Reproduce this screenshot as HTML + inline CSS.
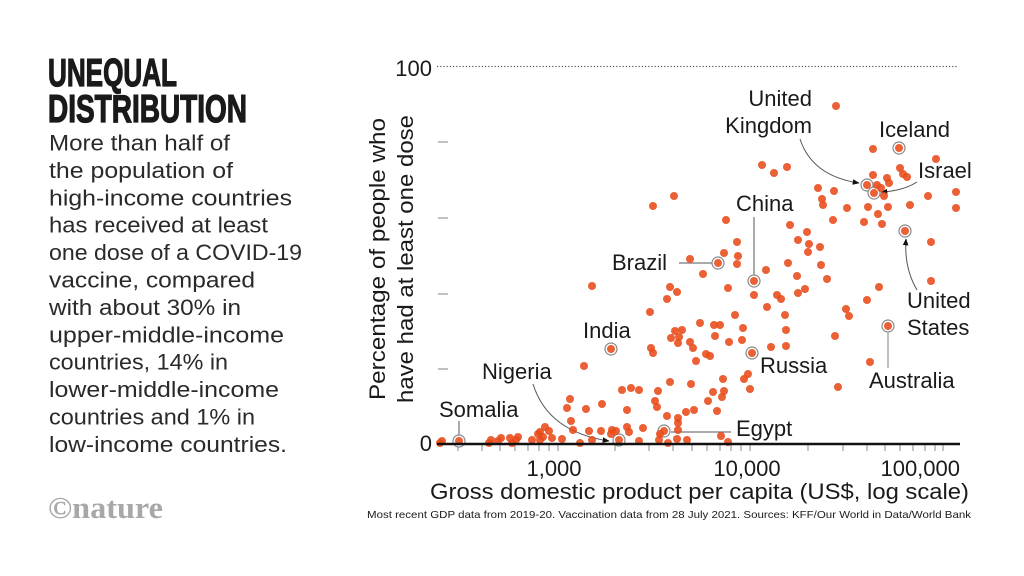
<!DOCTYPE html>
<html>
<head>
<meta charset="utf-8">
<style>
  html,body{margin:0;padding:0;background:#fff;}
  body{width:1024px;height:576px;overflow:hidden;}
  svg{display:block;}
  .lab{font-family:"Liberation Sans",sans-serif;font-size:22px;fill:#1a1a1a;}
  .body{font-family:"Liberation Sans",sans-serif;font-size:22px;fill:#2a2a2a;}
</style>
</head>
<body>
<svg width="1024" height="576" viewBox="0 0 1024 576" xmlns="http://www.w3.org/2000/svg">
  <defs>
    <marker id="ah" viewBox="0 0 10 10" refX="9" refY="5" markerWidth="7" markerHeight="7" orient="auto">
      <path d="M0,1 L10,5 L0,9 z" fill="#111"/>
    </marker>
  </defs>

  <!-- Left panel -->
  <text x="48" y="86" font-family="Liberation Sans Narrow, Liberation Sans, sans-serif" font-weight="bold" font-size="39" fill="#1a1a1a" stroke="#1a1a1a" stroke-width="1.3" textLength="129" lengthAdjust="spacingAndGlyphs">UNEQUAL</text>
  <text x="48" y="122" font-family="Liberation Sans Narrow, Liberation Sans, sans-serif" font-weight="bold" font-size="39" fill="#1a1a1a" stroke="#1a1a1a" stroke-width="1.3" textLength="199" lengthAdjust="spacingAndGlyphs">DISTRIBUTION</text>

  <g class="body">
    <text x="49" y="150.5" textLength="181" lengthAdjust="spacingAndGlyphs">More than half of</text>
    <text x="49" y="177.9" textLength="184" lengthAdjust="spacingAndGlyphs">the population of</text>
    <text x="49" y="205.3" textLength="243" lengthAdjust="spacingAndGlyphs">high-income countries</text>
    <text x="49" y="232.7" textLength="219" lengthAdjust="spacingAndGlyphs">has received at least</text>
    <text x="49" y="260.1" textLength="253" lengthAdjust="spacingAndGlyphs">one dose of a COVID-19</text>
    <text x="49" y="287.5" textLength="206" lengthAdjust="spacingAndGlyphs">vaccine, compared</text>
    <text x="49" y="314.9" textLength="192" lengthAdjust="spacingAndGlyphs">with about 30% in</text>
    <text x="49" y="342.3" textLength="235" lengthAdjust="spacingAndGlyphs">upper-middle-income</text>
    <text x="49" y="369.7" textLength="179" lengthAdjust="spacingAndGlyphs">countries, 14% in</text>
    <text x="49" y="397.1" textLength="230" lengthAdjust="spacingAndGlyphs">lower-middle-income</text>
    <text x="49" y="424.5" textLength="206" lengthAdjust="spacingAndGlyphs">countries and 1% in</text>
    <text x="49" y="451.9" textLength="238" lengthAdjust="spacingAndGlyphs">low-income countries.</text>
  </g>

  <text x="48" y="518" font-family="Liberation Serif, serif" font-weight="bold" font-size="31" fill="#a8a8a8" textLength="115" lengthAdjust="spacingAndGlyphs">©nature</text>

  <!-- Y axis label -->
  <text transform="translate(385,259) rotate(-90)" text-anchor="middle" class="lab" font-size="21" textLength="282" lengthAdjust="spacingAndGlyphs">Percentage of people who</text>
  <text transform="translate(413,259) rotate(-90)" text-anchor="middle" class="lab" font-size="21" textLength="288" lengthAdjust="spacingAndGlyphs">have had at least one dose</text>

  <!-- Y axis -->
  <text x="432" y="76" text-anchor="end" class="lab" font-size="22">100</text>
  <line x1="437" y1="66.5" x2="957" y2="66.5" stroke="#555" stroke-width="1.2" stroke-dasharray="1.2,2"/>
  <g stroke="#999" stroke-width="1.2">
    <line x1="438" y1="142" x2="448" y2="142"/>
    <line x1="438" y1="218" x2="448" y2="218"/>
    <line x1="438" y1="294" x2="448" y2="294"/>
    <line x1="438" y1="369" x2="448" y2="369"/>
  </g>
  <text x="432" y="451" text-anchor="end" class="lab" font-size="22">0</text>

  <!-- X axis ticks -->
  <g stroke="#888" stroke-width="1">
    <line x1="458" y1="444" x2="458" y2="451"/>
    <line x1="482" y1="444" x2="482" y2="451"/>
    <line x1="500" y1="444" x2="500" y2="451"/>
    <line x1="515" y1="444" x2="515" y2="451"/>
    <line x1="528" y1="444" x2="528" y2="451"/>
    <line x1="539" y1="444" x2="539" y2="451"/>
    <line x1="549" y1="444" x2="549" y2="451"/>
    <line x1="558" y1="444" x2="558" y2="451"/>
    <line x1="615" y1="444" x2="615" y2="451"/>
    <line x1="649" y1="444" x2="649" y2="451"/>
    <line x1="673" y1="444" x2="673" y2="451"/>
    <line x1="692" y1="444" x2="692" y2="451"/>
    <line x1="707" y1="444" x2="707" y2="451"/>
    <line x1="720" y1="444" x2="720" y2="451"/>
    <line x1="731" y1="444" x2="731" y2="451"/>
    <line x1="741" y1="444" x2="741" y2="451"/>
    <line x1="750" y1="444" x2="750" y2="451"/>
    <line x1="808" y1="444" x2="808" y2="451"/>
    <line x1="843" y1="444" x2="843" y2="451"/>
    <line x1="867" y1="444" x2="867" y2="451"/>
    <line x1="885" y1="444" x2="885" y2="451"/>
    <line x1="900" y1="444" x2="900" y2="451"/>
    <line x1="913" y1="444" x2="913" y2="451"/>
    <line x1="925" y1="444" x2="925" y2="451"/>
    <line x1="935" y1="444" x2="935" y2="451"/>
    <line x1="943" y1="444" x2="943" y2="451"/>
  </g>

  <text x="554" y="476" text-anchor="middle" class="lab" font-size="22">1,000</text>
  <text x="747" y="476" text-anchor="middle" class="lab" font-size="22">10,000</text>
  <text x="960" y="476" text-anchor="end" class="lab" font-size="22">100,000</text>
  <text x="430" y="499" class="lab" font-size="21" textLength="539" lengthAdjust="spacingAndGlyphs">Gross domestic product per capita (US$, log scale)</text>
  <text x="367" y="518" font-family="Liberation Sans Narrow, Liberation Sans, sans-serif" font-size="10.5" fill="#1a1a1a" textLength="604" lengthAdjust="spacingAndGlyphs">Most recent GDP data from 2019-20. Vaccination data from 28 July 2021. Sources: KFF/Our World in Data/World Bank</text>

  <!-- Connector lines & arrows -->
  <g fill="none" stroke="#555" stroke-width="1">
    <path d="M800,139 Q812,176 859,183" marker-end="url(#ah)"/>
    <path d="M917,182 Q903,191 881,192" marker-end="url(#ah)"/>
    <path d="M917,290 Q904,268 906,239" marker-end="url(#ah)"/>
    <path d="M533,384 Q548,432 609,441" marker-end="url(#ah)"/>
    <line x1="754" y1="217" x2="754" y2="275"/>
    <line x1="679" y1="263" x2="712" y2="263" stroke="#aaa" stroke-width="2"/>
    <line x1="459" y1="421" x2="459" y2="435"/>
    <line x1="671" y1="432" x2="731" y2="432"/>
    <line x1="888" y1="333" x2="888" y2="368" stroke="#aaa" stroke-width="1.5"/>
  </g>

  <!-- Rings for highlighted countries -->
  <g fill="#fff" stroke="#888" stroke-width="1.2">
    <circle cx="899" cy="148" r="6"/>
    <circle cx="867" cy="185" r="6"/>
    <circle cx="874" cy="193" r="6"/>
    <circle cx="905" cy="231" r="6"/>
    <circle cx="718" cy="263" r="6"/>
    <circle cx="754" cy="281" r="6"/>
    <circle cx="888" cy="326" r="6"/>
    <circle cx="752" cy="353" r="6"/>
    <circle cx="611" cy="349" r="6"/>
    <circle cx="664" cy="431" r="6"/>
    <circle cx="619" cy="440" r="6"/>
    <circle cx="459" cy="441" r="6"/>
  </g>

  <!-- Dots -->
  <g fill="#E84A18" fill-opacity="0.88">
    <circle cx="836" cy="106" r="4"/><circle cx="873" cy="149" r="4"/><circle cx="899" cy="148" r="4"/><circle cx="936" cy="159" r="4"/>
    <circle cx="762" cy="165" r="4"/><circle cx="774" cy="173" r="4"/><circle cx="787" cy="167" r="4"/><circle cx="900" cy="168" r="4"/>
    <circle cx="903" cy="174" r="4"/><circle cx="907" cy="177" r="4"/><circle cx="873" cy="175" r="4"/><circle cx="887" cy="178" r="4"/>
    <circle cx="889" cy="183" r="4"/><circle cx="867" cy="185" r="4"/><circle cx="877" cy="185" r="4"/><circle cx="881" cy="188" r="4"/>
    <circle cx="874" cy="193" r="4"/><circle cx="884" cy="196" r="4"/><circle cx="818" cy="188" r="4"/><circle cx="834" cy="191" r="4"/>
    <circle cx="822" cy="199" r="4"/><circle cx="823" cy="205" r="4"/><circle cx="847" cy="208" r="4"/><circle cx="868" cy="207" r="4"/>
    <circle cx="888" cy="207" r="4"/><circle cx="910" cy="205" r="4"/><circle cx="928" cy="196" r="4"/><circle cx="956" cy="192" r="4"/>
    <circle cx="956" cy="208" r="4"/><circle cx="878" cy="214" r="4"/><circle cx="833" cy="220" r="4"/><circle cx="864" cy="222" r="4"/>
    <circle cx="882" cy="224" r="4"/><circle cx="905" cy="231" r="4"/><circle cx="931" cy="242" r="4"/><circle cx="726" cy="220" r="4"/>
    <circle cx="790" cy="225" r="4"/><circle cx="807" cy="232" r="4"/><circle cx="798" cy="240" r="4"/><circle cx="809" cy="244" r="4"/>
    <circle cx="820" cy="247" r="4"/><circle cx="737" cy="242" r="4"/><circle cx="653" cy="206" r="4"/><circle cx="674" cy="196" r="4"/>

    <circle cx="808" cy="252" r="4"/><circle cx="724" cy="253" r="4"/><circle cx="738" cy="256" r="4"/><circle cx="737" cy="264" r="4"/>
    <circle cx="718" cy="263" r="4"/><circle cx="788" cy="263" r="4"/><circle cx="821" cy="265" r="4"/><circle cx="766" cy="270" r="4"/>
    <circle cx="703" cy="274" r="4"/><circle cx="754" cy="281" r="4"/><circle cx="797" cy="276" r="4"/><circle cx="827" cy="279" r="4"/>
    <circle cx="931" cy="281" r="4"/><circle cx="879" cy="287" r="4"/><circle cx="728" cy="288" r="4"/><circle cx="805" cy="289" r="4"/>
    <circle cx="798" cy="293" r="4"/><circle cx="754" cy="295" r="4"/><circle cx="777" cy="295" r="4"/><circle cx="781" cy="299" r="4"/>
    <circle cx="867" cy="300" r="4"/><circle cx="767" cy="307" r="4"/><circle cx="846" cy="309" r="4"/><circle cx="849" cy="316" r="4"/>
    <circle cx="785" cy="315" r="4"/><circle cx="735" cy="315" r="4"/><circle cx="888" cy="326" r="4"/><circle cx="714" cy="325" r="4"/>
    <circle cx="720" cy="325" r="4"/><circle cx="743" cy="328" r="4"/><circle cx="700" cy="323" r="4"/><circle cx="786" cy="330" r="4"/>
    <circle cx="715" cy="336" r="4"/><circle cx="835" cy="336" r="4"/><circle cx="729" cy="342" r="4"/><circle cx="742" cy="340" r="4"/>
    <circle cx="786" cy="346" r="4"/><circle cx="771" cy="347" r="4"/><circle cx="752" cy="353" r="4"/><circle cx="706" cy="354" r="4"/>
    <circle cx="710" cy="356" r="4"/><circle cx="870" cy="362" r="4"/><circle cx="748" cy="374" r="4"/><circle cx="744" cy="379" r="4"/>
    <circle cx="723" cy="379" r="4"/><circle cx="750" cy="389" r="4"/><circle cx="724" cy="391" r="4"/><circle cx="713" cy="392" r="4"/>
    <circle cx="838" cy="387" r="4"/><circle cx="722" cy="397" r="4"/>

    <circle cx="690" cy="259" r="4"/><circle cx="592" cy="286" r="4"/><circle cx="670" cy="287" r="4"/><circle cx="677" cy="292" r="4"/>
    <circle cx="667" cy="299" r="4"/><circle cx="650" cy="312" r="4"/><circle cx="675" cy="331" r="4"/><circle cx="682" cy="330" r="4"/>
    <circle cx="679" cy="337" r="4"/><circle cx="690" cy="342" r="4"/>

    <circle cx="611" cy="349" r="4"/><circle cx="651" cy="348" r="4"/><circle cx="653" cy="353" r="4"/><circle cx="671" cy="338" r="4"/>
    <circle cx="678" cy="343" r="4"/><circle cx="693" cy="348" r="4"/><circle cx="696" cy="361" r="4"/><circle cx="584" cy="366" r="4"/>
    <circle cx="670" cy="382" r="4"/><circle cx="691" cy="384" r="4"/><circle cx="622" cy="390" r="4"/><circle cx="631" cy="388" r="4"/>
    <circle cx="639" cy="390" r="4"/><circle cx="658" cy="391" r="4"/><circle cx="708" cy="401" r="4"/><circle cx="717" cy="411" r="4"/>
    <circle cx="694" cy="410" r="4"/><circle cx="686" cy="412" r="4"/><circle cx="678" cy="418" r="4"/><circle cx="678" cy="423" r="4"/>
    <circle cx="667" cy="416" r="4"/><circle cx="657" cy="407" r="4"/><circle cx="655" cy="401" r="4"/><circle cx="627" cy="410" r="4"/>
    <circle cx="602" cy="404" r="4"/><circle cx="586" cy="409" r="4"/><circle cx="570" cy="399" r="4"/><circle cx="567" cy="408" r="4"/>
    <circle cx="571" cy="421" r="4"/><circle cx="573" cy="430" r="4"/><circle cx="589" cy="431" r="4"/><circle cx="592" cy="440" r="4"/>
    <circle cx="601" cy="431" r="4"/><circle cx="612" cy="430" r="4"/><circle cx="611" cy="434" r="4"/><circle cx="616" cy="431" r="4"/>
    <circle cx="627" cy="427" r="4"/><circle cx="629" cy="432" r="4"/><circle cx="639" cy="441" r="4"/><circle cx="643" cy="428" r="4"/>
    <circle cx="659" cy="440" r="4"/><circle cx="660" cy="434" r="4"/><circle cx="664" cy="431" r="4"/><circle cx="678" cy="430" r="4"/>
    <circle cx="677" cy="439" r="4"/><circle cx="668" cy="443" r="4"/><circle cx="687" cy="440" r="4"/><circle cx="619" cy="440" r="4"/>
    <circle cx="580" cy="443" r="4"/><circle cx="562" cy="439" r="4"/><circle cx="552" cy="438" r="4"/><circle cx="549" cy="431" r="4"/>
    <circle cx="545" cy="427" r="4"/><circle cx="540" cy="432" r="4"/><circle cx="538" cy="434" r="4"/><circle cx="543" cy="437" r="4"/>
    <circle cx="540" cy="440" r="4"/><circle cx="532" cy="440" r="4"/><circle cx="518" cy="437" r="4"/><circle cx="516" cy="440" r="4"/>
    <circle cx="510" cy="438" r="4"/><circle cx="512" cy="443" r="4"/><circle cx="501" cy="438" r="4"/><circle cx="498" cy="441" r="4"/>
    <circle cx="491" cy="440" r="4"/><circle cx="489" cy="443" r="4"/><circle cx="459" cy="441" r="4"/><circle cx="442" cy="441" r="4"/>
    <circle cx="440" cy="443" r="4"/><circle cx="721" cy="436" r="4"/><circle cx="728" cy="442" r="4"/>
  </g>

  <!-- X axis line (on top of dots) -->
  <line x1="437" y1="444" x2="960" y2="444" stroke="#111" stroke-width="2.5"/>

  <!-- Country labels -->
  <g class="lab">
    <text x="812" y="106" text-anchor="end">United</text>
    <text x="812" y="133" text-anchor="end">Kingdom</text>
    <text x="879" y="137">Iceland</text>
    <text x="918" y="178">Israel</text>
    <text x="736" y="211">China</text>
    <text x="612" y="270">Brazil</text>
    <text x="583" y="338">India</text>
    <text x="482" y="379">Nigeria</text>
    <text x="439" y="417">Somalia</text>
    <text x="736" y="436">Egypt</text>
    <text x="760" y="373">Russia</text>
    <text x="907" y="308">United</text>
    <text x="907" y="335">States</text>
    <text x="869" y="388">Australia</text>
  </g>
</svg>
</body>
</html>
